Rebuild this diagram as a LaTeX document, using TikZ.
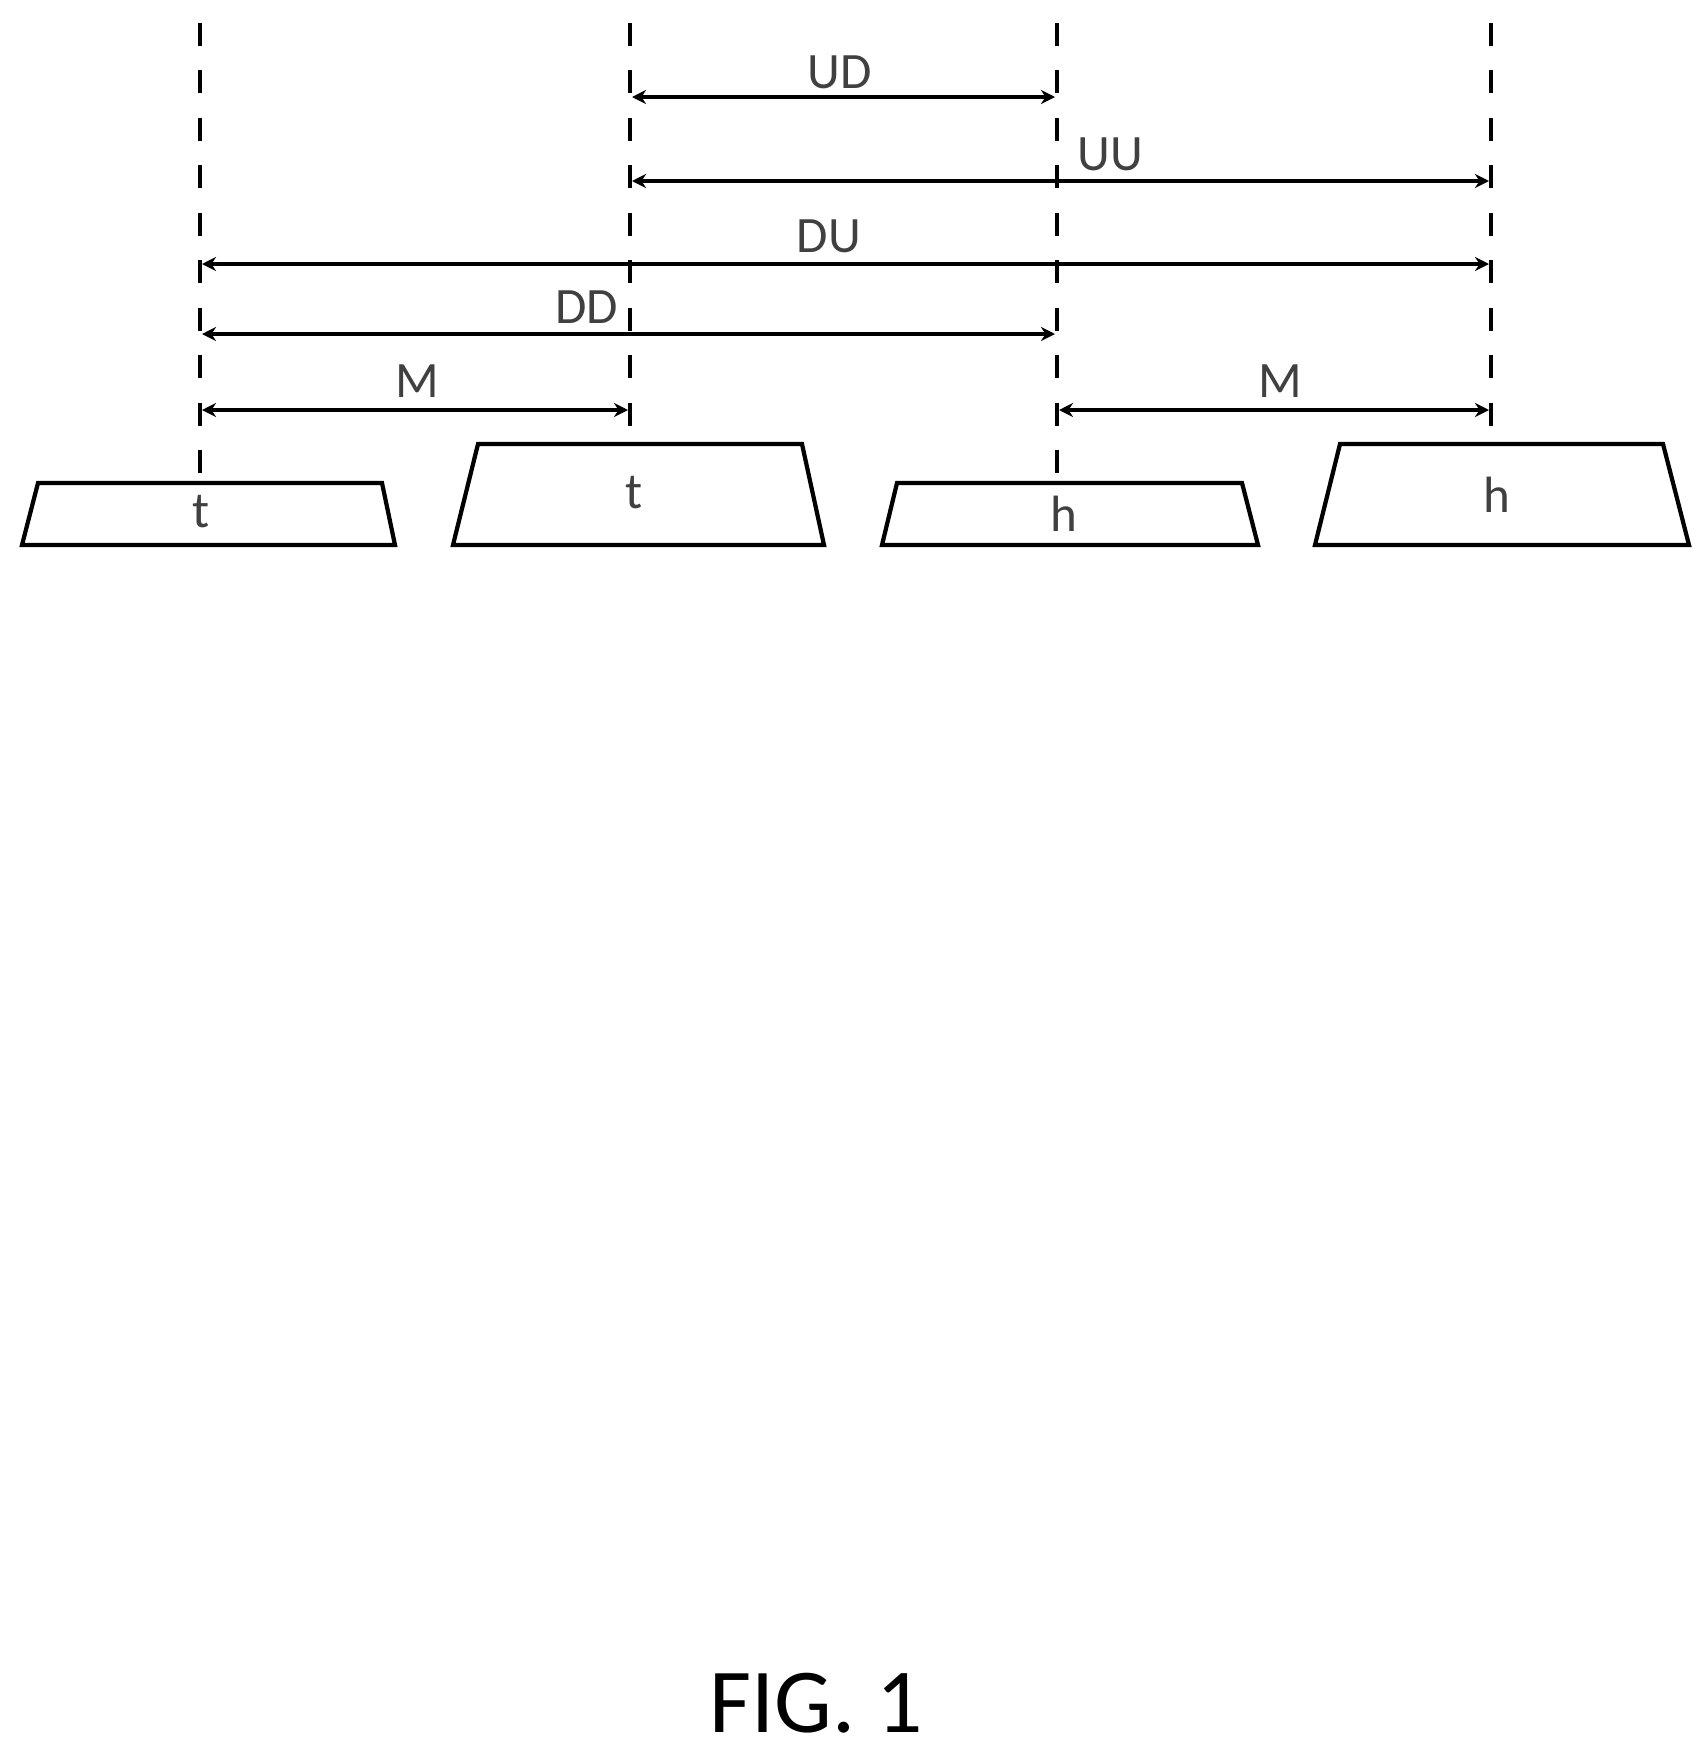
\documentclass[tikz,border=0pt]{standalone}
\usepackage{fontspec}
\setmainfont{Carlito}
\usetikzlibrary{arrows.meta}
\begin{document}
\begin{tikzpicture}[x=0.01cm,y=-0.01cm,
  guide/.style={line width=1pt,dash pattern=on 6.5pt off 7pt},
  dim/.style={line width=1.1pt,{Stealth[length=4pt,width=4pt]}-{Stealth[length=4pt,width=4pt]}},
  block/.style={line width=1.2pt},
  lab/.style={font=\fontsize{14.5}{16}\selectfont,text=black!75}]
  \useasboundingbox (0,0) rectangle (1703,1754);

  % guide lines
  \coordinate (g1t) at (200,23);  \coordinate (g1b) at (200,483);
  \coordinate (g2t) at (630,23);  \coordinate (g2b) at (630,444);
  \coordinate (g3t) at (1057,23); \coordinate (g3b) at (1057,483);
  \coordinate (g4t) at (1491,23); \coordinate (g4b) at (1491,444);
  \draw[guide] (g1t) -- (g1b);
  \draw[guide] (g2t) -- (g2b);
  \draw[guide] (g3t) -- (g3b);
  \draw[guide] (g4t) -- (g4b);

  % blocks
  \draw[block] (22,545) -- (38,483) -- (382,483) -- (395,545) -- cycle;
  \draw[block] (453,545) -- (478,444) -- (802,444) -- (824,545) -- cycle;
  \draw[block] (882,545) -- (897,483) -- (1242,483) -- (1258,545) -- cycle;
  \draw[block] (1315,545) -- (1340,444) -- (1663,444) -- (1689,545) -- cycle;
  \node[lab] (t1) at (201,512) {t};
  \node[lab] (t2) at (634,493) {t};
  \node[lab] (h1) at (1064,514) {h};
  \node[lab] (h2) at (1497,495) {h};

  % dimensions
  \coordinate (ud1) at (632,97);  \coordinate (ud2) at (1055,97);
  \coordinate (uu1) at (632,181); \coordinate (uu2) at (1489,181);
  \coordinate (du1) at (202,264); \coordinate (du2) at (1489,264);
  \coordinate (dd1) at (202,334); \coordinate (dd2) at (1055,334);
  \coordinate (ma1) at (202,410); \coordinate (ma2) at (628,410);
  \coordinate (mb1) at (1059,410); \coordinate (mb2) at (1489,410);
  \draw[dim] (ud1) -- (ud2);
  \draw[dim] (uu1) -- (uu2);
  \draw[dim] (du1) -- (du2);
  \draw[dim] (dd1) -- (dd2);
  \draw[dim] (ma1) -- (ma2);
  \draw[dim] (mb1) -- (mb2);
  \node[lab] (ud) at (840,72) {UD};
  \node[lab] (uu) at (1110,154) {UU};
  \node[lab] (du) at (829,236) {DU};
  \node[lab] (dd) at (587,307) {DD};
  \node[lab] (ma) at (417,381) {M};
  \node[lab] (mb) at (1280,381) {M};

  \node[font=\fontsize{26}{28}\selectfont] (fig) at (816,1703) {FIG. 1};
\end{tikzpicture}
\end{document}
